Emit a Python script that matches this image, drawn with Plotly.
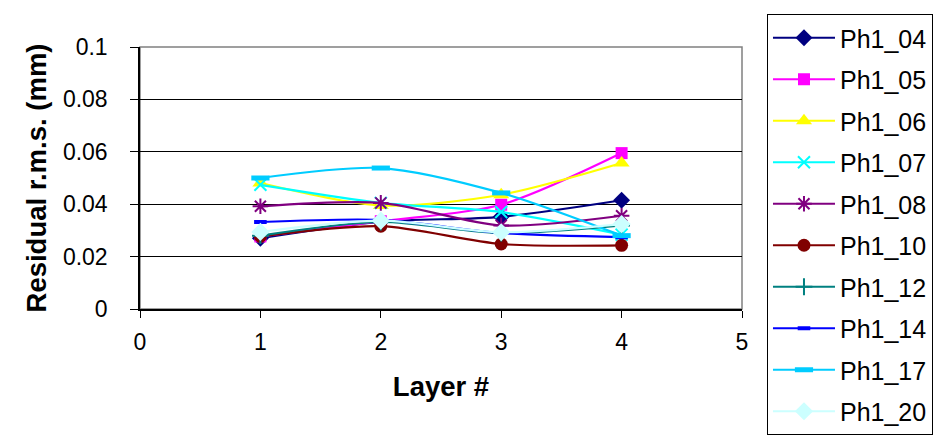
import plotly.graph_objects as go

layers = [1, 2, 3, 4]
series_names = ["Ph1_04", "Ph1_05", "Ph1_06", "Ph1_07", "Ph1_08",
                "Ph1_10", "Ph1_12", "Ph1_14", "Ph1_17", "Ph1_20"]
ph1_04 = [0.0270, 0.0333, 0.0352, 0.0415]
ph1_05 = [0.0277, 0.0335, 0.0398, 0.0595]
ph1_06 = [0.0481, 0.0395, 0.0436, 0.0557]
ph1_07 = [0.0474, 0.0405, 0.0370, 0.0284]
ph1_08 = [0.0392, 0.0405, 0.0319, 0.0356]
ph1_10 = [0.0277, 0.0316, 0.0248, 0.0243]
ph1_12 = [0.0280, 0.0332, 0.0290, 0.0319]
ph1_14 = [0.0332, 0.0340, 0.0290, 0.0274]
ph1_17 = [0.0500, 0.0538, 0.0443, 0.0280]
ph1_20 = [0.0294, 0.0337, 0.0293, 0.0324]
values = [ph1_04, ph1_05, ph1_06, ph1_07, ph1_08, ph1_10, ph1_12, ph1_14, ph1_17, ph1_20]

colors = ["#000080", "#FF00FF", "#FFFF00", "#00FFFF", "#800080",
          "#800000", "#008080", "#0000FF", "#00CCFF", "#CCFFFF"]
symbols = ["diamond", "square", "triangle-up", "x-thin-open", "asterisk-open",
           "circle", "cross-thin-open", "line-ew-open", "line-ew-open", "diamond"]
sizes = [13, 12, 14, 12, 13, 13, 12, 9, 13, 14]
mlw = [0, 0, 0, 2, 2, 0, 2, 4, 5, 0]

fig = go.Figure()
for i, (name, vals) in enumerate(zip(series_names, values)):
    fig.add_trace(go.Scatter(
        x=layers, y=vals, name=name, mode="lines+markers",
        legendgroup=name,
        line=dict(color=colors[i], width=2.2, shape="spline", smoothing=0.8),
        marker=dict(symbol=symbols[i], size=sizes[i], color=colors[i],
                    line=dict(color=colors[i], width=mlw[i])),
    ))

font_family = "Liberation Sans, Arial, sans-serif"

fig.add_shape(type="rect", xref="paper", yref="paper", x0=0, y0=0, x1=1, y1=1,
              line=dict(color="#808080", width=1.5), layer="below")

fig.update_layout(
    width=949, height=438,
    margin=dict(l=132, r=215, t=39, b=137, autoexpand=False),
    paper_bgcolor="white", plot_bgcolor="white",
    font=dict(family=font_family, color="black", size=23),
    showlegend=True,
    legend=dict(
        x=1.0415, xanchor="left",
        yref="container", y=0.9863, yanchor="top",
        maxheight=436,
        bordercolor="black", borderwidth=1,
        font=dict(size=25, family=font_family, color="black"),
        tracegroupgap=6, traceorder="grouped",
        itemwidth=62,
    ),
    xaxis=dict(
        range=[0, 5], dtick=1, tick0=0,
        showgrid=False, zeroline=False,
        showline=True, linecolor="black", linewidth=1.5,
        ticks="outside", ticklen=7, tickcolor="black",
        tickfont=dict(size=23),
        ticklabelstandoff=5,
        title=dict(text="<b>Layer #</b>", font=dict(size=27.5), standoff=22),
    ),
    yaxis=dict(
        range=[0, 0.1], dtick=0.02, tick0=0,
        showgrid=True, gridcolor="black", gridwidth=1,
        zeroline=False,
        showline=True, linecolor="black", linewidth=1.5,
        ticks="outside", ticklen=8, tickcolor="black",
        tickfont=dict(size=23),
        ticklabelstandoff=18,
        title=dict(text="<b>Residual r.m.s. (mm)</b>", font=dict(size=27.5), standoff=8),
    ),
)

fig.write_html("out.html")
